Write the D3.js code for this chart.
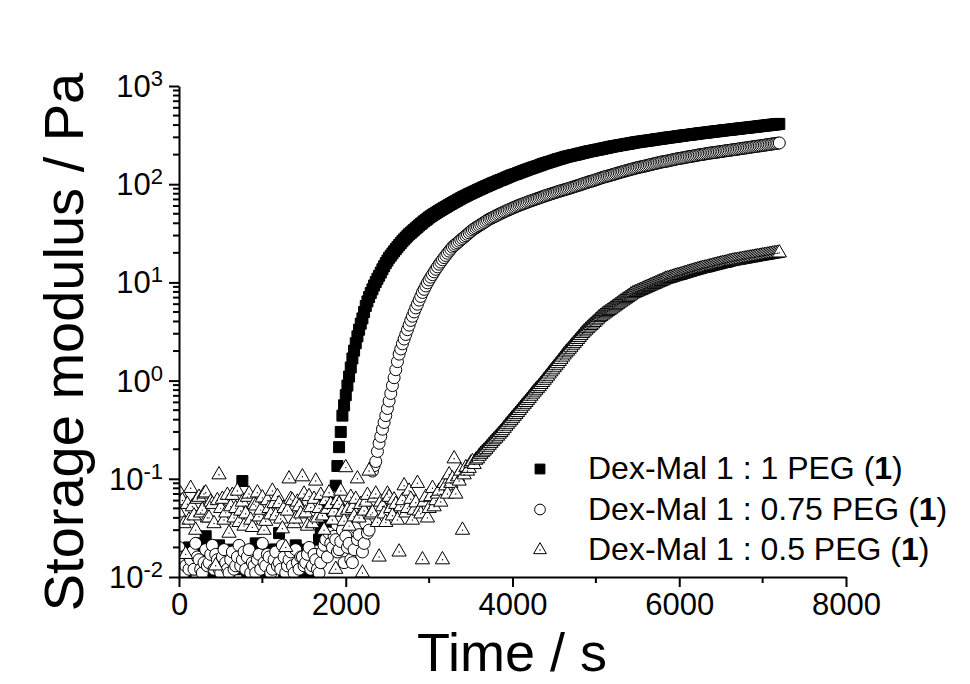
<!DOCTYPE html>
<html>
<head>
<meta charset="utf-8">
<script src="https://cdn.jsdelivr.net/npm/d3@7"></script>
<style>
  body { margin: 0; background: #fff; }
  svg text { font-family: "Liberation Sans", Arial, sans-serif; fill: #000; }
</style>
</head>
<body>
<svg id="chart" width="970" height="684"></svg>
<script>
// one reading every 20 s, first one at t = 0 (each row below = 200 s)
const timeStep = 20;

const xTicks = [0, 2000, 4000, 6000, 8000];
const xMinorTicks = [1000, 3000, 5000, 7000];
const yExponents = [-2, -1, 0, 1, 2, 3];

const legendLabels = ['Dex-Mal 1 : 1 PEG ', 'Dex-Mal 1 : 0.75 PEG ', 'Dex-Mal 1 : 0.5 PEG '];

// G' / Pa, Dex-Mal 1 : 1 PEG
const gSquares = [
  0.015, 0.011, 0.012, 0.018, 0.011, 0.014, 0.02, 0.013, 0.014, 0.017,
  0.018, 0.012, 0.013, 0.016, 0.022, 0.012, 0.026, 0.015, 0.019, 0.013,
  0.016, 0.011, 0.012, 0.02, 0.021, 0.014, 0.017, 0.012, 0.014, 0.018,
  0.011, 0.015, 0.019, 0.013, 0.015, 0.012, 0.013, 0.016, 0.095, 0.014,
  0.018, 0.011, 0.012, 0.017, 0.016, 0.013, 0.022, 0.015, 0.014, 0.012,
  0.02, 0.016, 0.011, 0.013, 0.017, 0.012, 0.013, 0.019, 0.019, 0.014,
  0.028, 0.013, 0.015, 0.011, 0.012, 0.016, 0.018, 0.012, 0.014, 0.017,
  0.021, 0.013, 0.016, 0.012, 0.011, 0.015, 0.019, 0.014, 0.013, 0.011,
  0.011, 0.016, 0.017, 0.013, 0.024, 0.03, 0.054, 0.04, 0.033, 0.05,
  0.045, 0.048, 0.052, 0.06, 0.085, 0.135, 0.21, 0.30, 0.44, 0.56,
  0.71, 0.89, 1.1, 1.36, 1.68, 2.02, 2.4, 2.82, 3.3, 3.8,
  4.3, 5.0, 5.75, 6.4, 7.1, 7.8, 8.5, 9.3, 10.1, 10.9,
  11.7, 12.6, 13.6, 14.6, 15.7, 16.7, 17.8, 18.7, 19.7, 20.7,
  21.8, 22.9, 24.0, 25.1, 26.3, 27.4, 28.6, 29.8, 30.9, 32.0,
  33.1, 34.3, 35.5, 36.7, 38.0, 39.3, 40.6, 41.9, 43.2, 44.5,
  45.9, 47.1, 48.4, 49.6, 50.9, 52.2, 53.5, 54.8, 56.1, 57.4,
  58.7, 60.1, 61.5, 62.9, 64.3, 65.7, 67.1, 68.6, 70.1, 71.7,
  73.3, 74.7, 76.2, 77.7, 79.3, 80.7, 82.2, 83.7, 85.3, 86.9,
  88.5, 90.1, 91.8, 93.4, 95.1, 96.7, 98.4, 100, 102, 103.5,
  105, 107, 109, 110.5, 112, 114, 116, 118, 120, 122,
  124, 125.5, 127, 129, 131, 133, 135, 137, 139, 141,
  143, 145, 147, 149, 151, 153, 155, 157.5, 160, 162,
  164, 166, 168, 170, 172, 174.5, 177, 179, 181, 183,
  185, 187.5, 190, 191.5, 193, 195, 197, 198.5, 200, 202,
  204, 206, 208, 210, 212, 214, 216, 217.5, 219, 221,
  223, 224.5, 226, 228, 230, 232, 234, 236, 238, 240,
  242, 243.5, 245, 247, 249, 250.5, 252, 254, 256, 257.5,
  259, 261, 263, 265, 267, 268.5, 270, 271.5, 273, 274.5,
  276, 277.5, 279, 280.5, 282, 284, 286, 287.5, 289, 290.5,
  292, 294, 296, 297.5, 299, 300.5, 302, 303.5, 305, 307,
  309, 310.5, 312, 314, 316, 317, 318, 320, 322, 323.5,
  325, 327, 329, 330.5, 332, 333.5, 335, 336.5, 338, 340,
  342, 343.5, 345, 346.5, 348, 350, 352, 353.5, 355, 356.5,
  358, 359.5, 361, 363, 365, 366.5, 368, 370, 372, 373.5,
  375, 376.5, 378, 380, 382, 383.5, 385, 387, 389, 391,
  393, 394.5, 396, 398, 400, 402, 404, 405.5, 407, 409,
  411
];

// G' / Pa, Dex-Mal 1 : 0.75 PEG
const gCircles = [
  0.02, 0.013, 0.016, 0.011, 0.013, 0.017, 0.012, 0.015, 0.018, 0.012,
  0.022, 0.016, 0.015, 0.012, 0.011, 0.014, 0.019, 0.013, 0.014, 0.017,
  0.021, 0.012, 0.017, 0.015, 0.012, 0.011, 0.016, 0.019, 0.014, 0.012,
  0.011, 0.015, 0.018, 0.012, 0.013, 0.016, 0.021, 0.013, 0.015, 0.018,
  0.012, 0.016, 0.019, 0.011, 0.014, 0.013, 0.011, 0.015, 0.017, 0.012,
  0.022, 0.014, 0.013, 0.017, 0.016, 0.011, 0.012, 0.015, 0.018, 0.013,
  0.014, 0.012, 0.021, 0.016, 0.011, 0.013, 0.015, 0.018, 0.013, 0.011,
  0.019, 0.014, 0.012, 0.016, 0.016, 0.013, 0.014, 0.017, 0.02, 0.012,
  0.013, 0.017, 0.015, 0.012, 0.011, 0.014, 0.018, 0.021, 0.024, 0.016,
  0.028, 0.022, 0.02, 0.026, 0.024, 0.018, 0.019, 0.023, 0.03, 0.014,
  0.026, 0.02, 0.022, 0.015, 0.014, 0.019, 0.032, 0.024, 0.027, 0.04,
  0.018, 0.022, 0.035, 0.028, 0.03, 0.06, 0.12, 0.136, 0.15, 0.19,
  0.23, 0.27, 0.32, 0.375, 0.44, 0.52, 0.62, 0.74, 0.89, 1.07,
  1.29, 1.56, 1.86, 2.1, 2.37, 2.65, 2.95, 3.3, 3.67, 4.1,
  4.52, 5.0, 5.5, 6.0, 6.6, 7.2, 7.9, 8.5, 9.2, 9.9,
  10.6, 11.3, 12.0, 12.8, 13.6, 14.4, 15.3, 16.1, 17.0, 17.9,
  18.8, 19.8, 20.8, 21.8, 22.9, 23.7, 24.5, 25.3, 26.2, 27.1,
  28.0, 28.9, 29.9, 30.9, 32.0, 33.1, 34.2, 35.1, 36.0, 36.9,
  37.8, 38.8, 39.8, 40.8, 41.9, 43.0, 44.1, 44.9, 45.7, 46.6,
  47.5, 48.5, 49.5, 50.4, 51.4, 52.3, 53.3, 54.2, 55.2, 56.1,
  57.1, 58.0, 59.0, 60.0, 61.0, 61.9, 62.8, 63.7, 64.7, 65.7,
  66.7, 67.6, 68.5, 69.5, 70.5, 71.4, 72.4, 73.4, 74.5, 75.5,
  76.6, 77.5, 78.5, 79.5, 80.5, 81.5, 82.6, 83.6, 84.7, 85.7,
  86.7, 87.7, 88.7, 89.7, 90.8, 91.9, 93.1, 94.3, 95.5, 96.7,
  97.9, 99.2, 100.5, 102, 103, 104.5, 106, 107, 108, 109.5,
  111, 112.5, 114, 115.5, 117, 118.5, 120, 121, 122, 123.5,
  125, 126.5, 128, 129.5, 131, 132.5, 134, 135.5, 137, 138.5,
  140, 141.5, 143, 144.5, 146, 147.5, 149, 150, 151, 152.5,
  154, 155.5, 157, 158.5, 160, 161.5, 163, 164.5, 166, 167.5,
  169, 170, 171, 172.5, 174, 175.5, 177, 178.5, 180, 181.5,
  183, 184, 185, 186.5, 188, 189.5, 191, 192, 193, 194.5,
  196, 197.5, 199, 200, 201, 202.5, 204, 205.5, 207, 208,
  209, 210, 211, 212.5, 214, 215, 216, 217.5, 219, 220,
  221, 222.5, 224, 225, 226, 227.5, 229, 230.5, 232, 233,
  234, 235.5, 237, 238.5, 240, 241.5, 243, 244, 245, 246.5,
  248, 249.5, 251, 252.5, 254, 255.5, 257, 258.5, 260, 261.5,
  263
];

// G' / Pa, Dex-Mal 1 : 0.5 PEG
const gTriangles = [
  0.045, 0.07, 0.06, 0.035, 0.017, 0.055, 0.038, 0.08, 0.052, 0.042,
  0.03, 0.062, 0.065, 0.045, 0.048, 0.07, 0.072, 0.04, 0.04, 0.058,
  0.055, 0.035, 0.013, 0.06, 0.11, 0.05, 0.062, 0.038, 0.045, 0.068,
  0.028, 0.052, 0.068, 0.04, 0.05, 0.075, 0.036, 0.047, 0.058, 0.033,
  0.044, 0.065, 0.07, 0.038, 0.032, 0.055, 0.053, 0.072, 0.041, 0.048,
  0.064, 0.03, 0.037, 0.06, 0.05, 0.043, 0.075, 0.056, 0.042, 0.066,
  0.056, 0.039, 0.031, 0.05, 0.02, 0.047, 0.1, 0.062, 0.06, 0.035,
  0.039, 0.058, 0.052, 0.044, 0.105, 0.07, 0.045, 0.033, 0.066, 0.051,
  0.035, 0.062, 0.095, 0.04, 0.05, 0.068, 0.042, 0.03, 0.06, 0.049,
  0.072, 0.055, 0.038, 0.046, 0.012, 0.06, 0.055, 0.075, 0.046, 0.037,
  0.13, 0.048, 0.033, 0.065, 0.05, 0.041, 0.062, 0.1, 0.04, 0.055,
  0.011, 0.047, 0.058, 0.068, 0.12, 0.043, 0.045, 0.064, 0.07, 0.036,
  0.016, 0.058, 0.052, 0.044, 0.036, 0.07, 0.065, 0.05, 0.042, 0.061,
  0.055, 0.038, 0.018, 0.052, 0.06, 0.085, 0.045, 0.05, 0.075, 0.062,
  0.038, 0.048, 0.057, 0.09, 0.047, 0.044, 0.015, 0.058, 0.065, 0.04,
  0.05, 0.066, 0.08, 0.052, 0.06, 0.07, 0.075, 0.058, 0.015, 0.09,
  0.085, 0.07, 0.11, 0.09, 0.1, 0.16, 0.07, 0.105, 0.095, 0.12,
  0.03, 0.11, 0.13, 0.12, 0.128, 0.145, 0.15, 0.14, 0.155, 0.16,
  0.17, 0.178, 0.185, 0.192, 0.2, 0.21, 0.22, 0.23, 0.24, 0.25,
  0.26, 0.272, 0.285, 0.297, 0.31, 0.327, 0.344, 0.36, 0.378, 0.395,
  0.414, 0.434, 0.454, 0.475, 0.498, 0.523, 0.55, 0.575, 0.6, 0.63,
  0.66, 0.695, 0.73, 0.765, 0.8, 0.835, 0.87, 0.915, 0.96, 1.01,
  1.06, 1.11, 1.17, 1.23, 1.29, 1.355, 1.42, 1.49, 1.57, 1.65,
  1.74, 1.83, 1.92, 2.0, 2.09, 2.19, 2.3, 2.4, 2.51, 2.63,
  2.75, 2.88, 3.02, 3.14, 3.27, 3.39, 3.52, 3.65, 3.78, 3.92,
  4.07, 4.23, 4.39, 4.52, 4.66, 4.79, 4.92, 5.06, 5.2, 5.35,
  5.5, 5.65, 5.81, 5.99, 6.17, 6.33, 6.5, 6.67, 6.85, 7.04,
  7.24, 7.44, 7.64, 7.77, 7.91, 8.04, 8.18, 8.32, 8.47, 8.62,
  8.77, 8.92, 9.08, 9.24, 9.4, 9.56, 9.72, 9.9, 10.07, 10.23,
  10.4, 10.6, 10.8, 10.9, 11.0, 11.15, 11.3, 11.45, 11.6, 11.7,
  11.8, 11.95, 12.1, 12.25, 12.4, 12.55, 12.7, 12.85, 13.0, 13.15,
  13.3, 13.45, 13.6, 13.75, 13.9, 14.0, 14.1, 14.25, 14.4, 14.55,
  14.7, 14.85, 15.0, 15.15, 15.3, 15.45, 15.6, 15.7, 15.8, 16.0,
  16.2, 16.35, 16.5, 16.6, 16.7, 16.8, 16.9, 17.05, 17.2, 17.3,
  17.4, 17.55, 17.7, 17.8, 17.9, 18.05, 18.2, 18.3, 18.4, 18.55,
  18.7, 18.8, 18.9, 19.05, 19.2, 19.35, 19.5, 19.6, 19.7, 19.85,
  20.0
];

const svg = d3.select('#chart');

const x = d3.scaleLinear().domain([0, 8000]).range([179, 846]);
const y = d3.scaleLog().domain([0.01, 1000]).range([577, 86]);

const series = [
  { values: gSquares, type: d3.symbolSquare, size: 121, fill: '#000' },
  { values: gCircles, type: d3.symbolCircle, size: 113, fill: '#fff' },
  { values: gTriangles, type: d3.symbolTriangle, size: 88, fill: '#fff' }
];

svg.append('clipPath').attr('id', 'plot-clip')
  .append('rect')
  .attr('x', x(0)).attr('y', 20)
  .attr('width', 760).attr('height', y(0.01) - 20);

const plot = svg.append('g').attr('clip-path', 'url(#plot-clip)');

series.forEach((s) => {
  const pts = s.values.map((v, i) => ({ t: i * timeStep, v: v }));
  const sym = d3.symbol().type(s.type).size(s.size);
  const g = plot.append('g');
  g.selectAll('path')
    .data(pts)
    .enter()
    .append('path')
    .attr('d', sym)
    .attr('transform', d => `translate(${x(d.t)},${y(d.v)})`)
    .attr('fill', s.fill)
    .attr('stroke', '#000')
    .attr('stroke-width', 1);
  if (s.type === d3.symbolTriangle) {
    // origin puts a little dot in the middle of each triangle
    g.selectAll('circle')
      .data(pts)
      .enter()
      .append('circle')
      .attr('cx', d => x(d.t))
      .attr('cy', d => y(d.v))
      .attr('r', 0.7)
      .attr('fill', '#000');
  }
});

// axes
const xAxis = d3.axisBottom(x)
  .tickValues(xTicks)
  .tickSize(10)
  .tickSizeOuter(0)
  .tickPadding(6)
  .tickFormat(d3.format('d'));

const gx = svg.append('g')
  .attr('transform', `translate(0,${y(0.01)})`)
  .call(xAxis);
gx.selectAll('text').attr('font-size', 31).attr('font-family', '"Liberation Sans", Arial, sans-serif');

gx.selectAll('.minor')
  .data(xMinorTicks)
  .enter()
  .append('line')
  .attr('x1', d => x(d)).attr('x2', d => x(d))
  .attr('y1', 0).attr('y2', 6)
  .attr('stroke', '#000');

const yAxis = d3.axisLeft(y)
  .tickValues(yExponents.map(e => Math.pow(10, e)))
  .tickSize(10)
  .tickSizeOuter(0)
  .tickFormat(() => '');

const gy = svg.append('g')
  .attr('transform', `translate(${x(0)},0)`)
  .call(yAxis);

const yMinor = [];
yExponents.slice(0, -1).forEach(e => {
  for (let m = 2; m <= 9; m++) yMinor.push(m * Math.pow(10, e));
});
gy.selectAll('.minor')
  .data(yMinor)
  .enter()
  .append('line')
  .attr('x1', 0).attr('x2', -6)
  .attr('y1', d => y(d)).attr('y2', d => y(d))
  .attr('stroke', '#000');

[gx, gy].forEach(g => {
  g.select('.domain').attr('stroke-width', 2);
  g.selectAll('line').attr('stroke-width', 2);
});

// 10^n labels
const yLabels = svg.append('g')
  .selectAll('text')
  .data(yExponents)
  .enter()
  .append('text')
  .attr('x', 163)
  .attr('y', e => y(Math.pow(10, e)) + 11)
  .attr('text-anchor', 'end')
  .attr('font-size', 31);
yLabels.append('tspan').text('10');
yLabels.append('tspan')
  .attr('font-size', 22)
  .attr('dy', -11)
  .text(e => String(e));

// axis titles
svg.append('text')
  .attr('x', 512).attr('y', 671)
  .attr('text-anchor', 'middle')
  .attr('font-size', 54)
  .text('Time / s');

svg.append('text')
  .attr('transform', 'translate(83,342) rotate(-90)')
  .attr('text-anchor', 'middle')
  .attr('font-size', 56)
  .text('Storage modulus / Pa');

// legend
const legend = svg.append('g');
series.forEach((s, i) => {
  const ly = 469 + i * 40.5;
  legend.append('path')
    .attr('d', d3.symbol().type(s.type).size(s.size * 0.8))
    .attr('transform', `translate(540,${ly})`)
    .attr('fill', s.fill)
    .attr('stroke', '#000')
    .attr('stroke-width', 1);
  if (s.type === d3.symbolTriangle) {
    legend.append('circle').attr('cx', 540).attr('cy', ly).attr('r', 0.7).attr('fill', '#000');
  }
  const t = legend.append('text')
    .attr('x', 588).attr('y', ly + 10)
    .attr('font-size', 32);
  t.append('tspan').text(legendLabels[i] + '(');
  t.append('tspan').attr('font-weight', 'bold').text('1');
  t.append('tspan').text(')');
});
</script>
</body>
</html>
